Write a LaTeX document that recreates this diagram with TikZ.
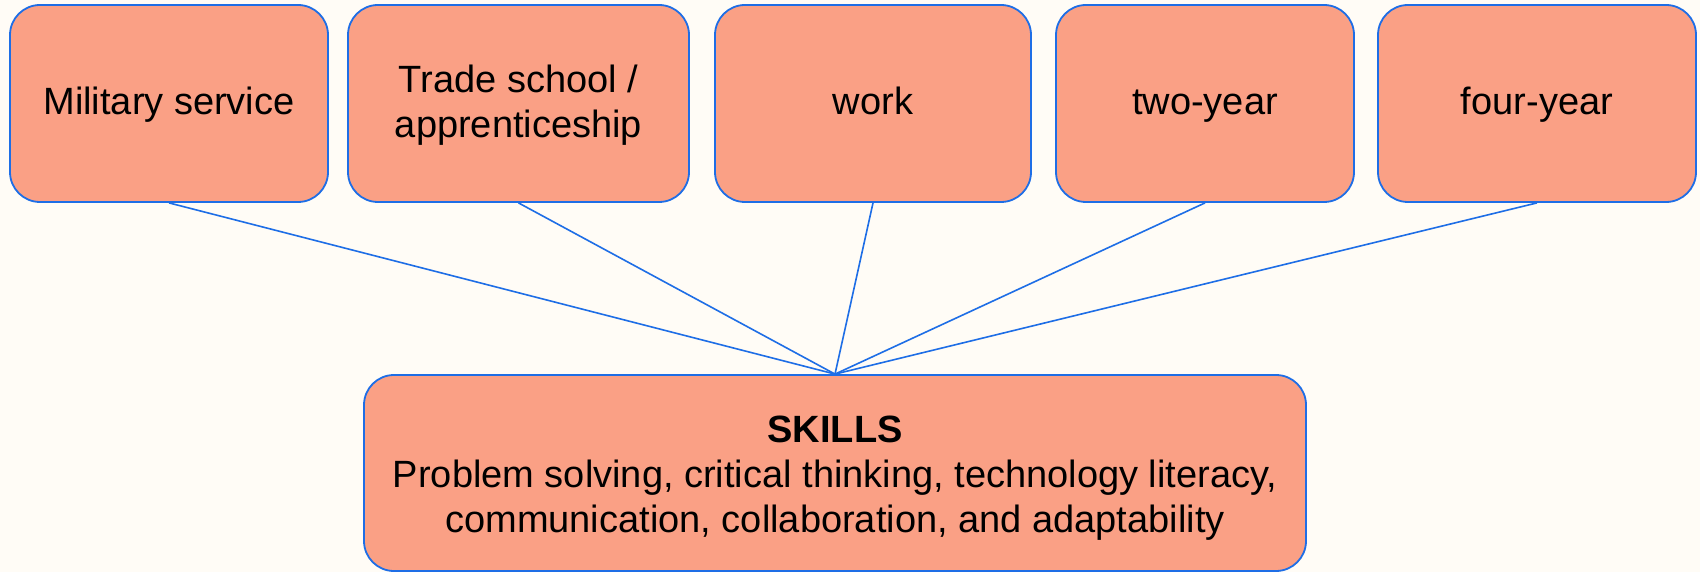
\documentclass[tikz,border=0pt]{standalone}
\usepackage{fontspec}
\setmainfont{Liberation Sans}
\definecolor{bgc}{HTML}{FFFCF6}
\definecolor{boxfill}{HTML}{FAA085}
\definecolor{edgeblue}{HTML}{1E6EE6}
\newcommand\topstrut[1]{\rule{0pt}{#1}}
\newcommand\botstrut[1]{\rule[-#1]{0pt}{0pt}}
\begin{document}
\begin{tikzpicture}[x=1pt,y=-1pt,
  pbox/.style={draw=edgeblue, line width=1.8pt, fill=boxfill, rounded corners=30pt,
    inner sep=0pt, align=center, minimum height=197pt,
    font=\fontsize{38}{45}\selectfont},
  oneline/.style={text height=31pt, text depth=8pt},
  conn/.style={draw=edgeblue, line width=1.6pt}]
\fill[bgc] (0,0) rectangle (1700,572);
\useasboundingbox (0,0) rectangle (1700,572);
\node[pbox, oneline, minimum width=318pt] (mil) at (169,103.5) {Military service};
\node[pbox, minimum width=341pt] (trade) at (518.5,103.5)
  {\topstrut{31pt}Trade school /\\apprenticeship\botstrut{8pt}};
\node[pbox, oneline, minimum width=316pt] (work) at (873,103.5) {work};
\node[pbox, oneline, minimum width=298pt] (two) at (1205,103.5) {two-year};
\node[pbox, oneline, minimum width=318pt] (four) at (1537,103.5) {four-year};
\node[pbox, minimum width=942pt, minimum height=196pt] (skills) at (835,473)
  {\topstrut{36pt}\textbf{SKILLS}\\Problem solving, critical thinking, technology literacy,\\communication, collaboration, and adaptability\botstrut{8pt}};
\foreach \n in {mil,trade,work,two,four}
  \draw[conn] (\n.south) -- (skills.north);
\end{tikzpicture}
\end{document}
